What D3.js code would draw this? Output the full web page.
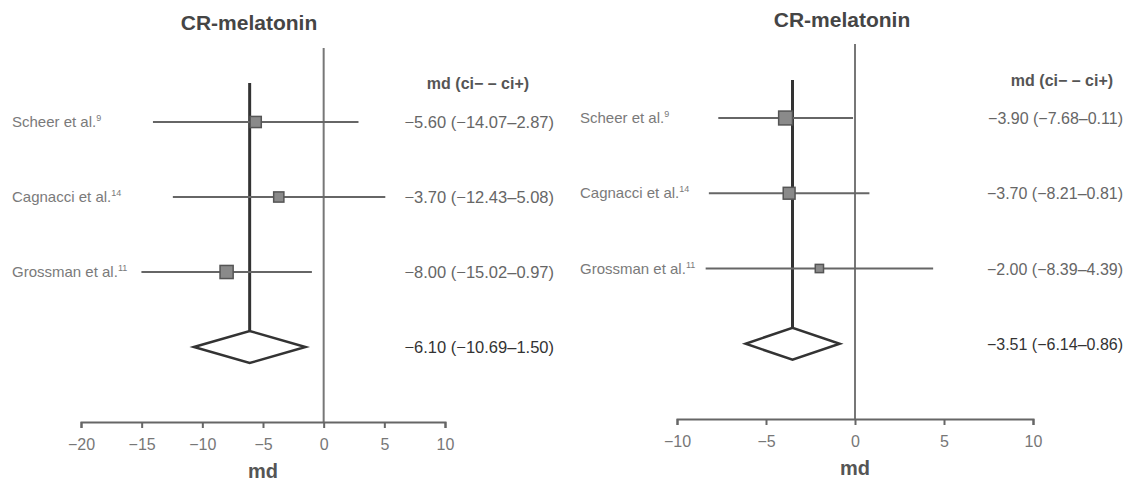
<!DOCTYPE html>
<html>
<head>
<meta charset="utf-8">
<script src="https://cdn.jsdelivr.net/npm/d3@7"></script>
<style>
  body { margin: 0; background: #fff; }
  svg { display: block; font-family: "Liberation Sans", Arial, sans-serif; }
</style>
</head>
<body>
<svg id="chart" width="1131" height="481"></svg>
<script>
// study rows (same three trials on both panels)
const studies = ["Scheer et al.", "Cagnacci et al.", "Grossman et al."];
const refs = ["9", "14", "11"];

// left panel
const leftMd = [-5.60, -3.70, -8.00];
const leftLo = [-14.07, -12.43, -15.02];
const leftHi = [2.87, 5.08, -0.97];
const leftWeight = [31, 26, 43];
const leftPooled = [-6.10, -10.69, -1.50];
const leftTicks = [-20, -15, -10, -5, 0, 5, 10];

// right panel
const rightMd = [-3.90, -3.70, -2.00];
const rightLo = [-7.68, -8.21, -8.39];
const rightHi = [-0.11, 0.81, 4.39];
const rightWeight = [48, 35, 17];
const rightPooled = [-3.51, -6.14, -0.86];
const rightTicks = [-10, -5, 0, 5, 10];

const title = "CR-melatonin";
const header = "md (ci\u2212 \u2013 ci+)";

const fmt = d3.format(".2f");
const label = (m, lo, hi) => `${fmt(m)} (${fmt(lo)}\u2013${fmt(Math.abs(hi))})`;

const svg = d3.select("#chart");
const boxSize = d3.scaleSqrt().domain([0, 100]).range([0, 20]);

function drawPanel(cfg) {
  const { md, lo, hi, weight, pooled, ticks } = cfg;
  const x = d3.scaleLinear().domain(d3.extent(ticks)).range(cfg.xRange);
  const y = d3.scaleLinear().domain([0, 4]).range(cfg.yRange);
  const g = svg.append("g");
  const rows = studies.map((s, i) => ({ s, ref: refs[i], md: md[i], lo: lo[i], hi: hi[i], w: weight[i], i }));

  // title
  g.append("text")
    .attr("x", cfg.titleX).attr("y", cfg.titleY)
    .attr("text-anchor", "middle")
    .style("font-size", "21px").style("font-weight", "bold")
    .style("fill", "#454545")
    .text(title);

  // zero line
  g.append("line")
    .attr("x1", x(0)).attr("x2", x(0))
    .attr("y1", cfg.zeroTop).attr("y2", y(4))
    .style("stroke", "#777").style("stroke-width", 2);

  // pooled estimate line
  g.append("line")
    .attr("x1", x(pooled[0])).attr("x2", x(pooled[0]))
    .attr("y1", cfg.pooledTop).attr("y2", y(3) - 16)
    .style("stroke", "#333").style("stroke-width", 3);

  // confidence intervals
  g.selectAll("line.ci").data(rows).join("line")
    .attr("class", "ci")
    .attr("x1", d => x(d.lo)).attr("x2", d => x(d.hi))
    .attr("y1", d => y(d.i)).attr("y2", d => y(d.i))
    .style("stroke", "#666").style("stroke-width", 2);

  // boxes sized by weight
  g.selectAll("rect.box").data(rows).join("rect")
    .attr("class", "box")
    .attr("x", d => x(d.md) - boxSize(d.w) / 2)
    .attr("y", d => y(d.i) - boxSize(d.w) / 2)
    .attr("width", d => boxSize(d.w)).attr("height", d => boxSize(d.w))
    .style("fill", "#8a8a8a").style("stroke", "#555").style("stroke-width", 1.5);

  // diamond
  const yd = y(3);
  g.append("path")
    .attr("d", `M${x(pooled[1])},${yd}L${x(pooled[0])},${yd - 16}L${x(pooled[2])},${yd}L${x(pooled[0])},${yd + 16}Z`)
    .style("fill", "#fff").style("stroke", "#333").style("stroke-width", 2.5)
    .style("stroke-linejoin", "miter");

  // study labels
  const lab = g.selectAll("text.study").data(rows).join("text")
    .attr("class", "study")
    .attr("x", cfg.labelX).attr("y", d => y(d.i) + 5)
    .style("font-size", "15px").style("fill", "#7a7a7a");
  lab.append("tspan").text(d => d.s);
  lab.append("tspan").attr("dy", -6).style("font-size", "9px").text(d => d.ref);

  // header and values
  g.append("text")
    .attr("x", cfg.headerX).attr("y", cfg.headerY)
    .attr("text-anchor", "middle")
    .style("font-size", "16px").style("font-weight", "bold").style("fill", "#555")
    .text(header);

  g.selectAll("text.val").data(rows).join("text")
    .attr("class", "val")
    .attr("x", cfg.valueX).attr("y", d => y(d.i) + 6)
    .attr("text-anchor", "end")
    .style("font-size", cfg.valueSize).style("fill", "#666")
    .text(d => label(d.md, d.lo, d.hi));

  g.append("text")
    .attr("x", cfg.valueX).attr("y", yd + 6)
    .attr("text-anchor", "end")
    .style("font-size", cfg.valueSize).style("fill", "#333")
    .text(label(pooled[0], pooled[1], pooled[2]));

  // axis
  const ax = g.append("g")
    .attr("transform", `translate(0,${y(4)})`)
    .call(d3.axisBottom(x).tickValues(ticks).tickSize(6).tickPadding(11));
  ax.select(".domain").style("stroke", "#666").style("stroke-width", 2);
  ax.selectAll(".tick line").style("stroke", "#666").style("stroke-width", 2);
  ax.selectAll(".tick text")
    .style("font-size", "16px").style("fill", "#777")
    .style("font-family", "'Liberation Sans', Arial, sans-serif");

  g.append("text")
    .attr("x", (cfg.xRange[0] + cfg.xRange[1]) / 2).attr("y", y(4) + 56)
    .attr("text-anchor", "middle")
    .style("font-size", "20px").style("font-weight", "bold").style("fill", "#555")
    .text("md");
}

drawPanel({
  md: leftMd, lo: leftLo, hi: leftHi, weight: leftWeight, pooled: leftPooled, ticks: leftTicks,
  xRange: [81, 445], yRange: [122, 422],
  titleX: 249, titleY: 30, zeroTop: 48, pooledTop: 83,
  labelX: 12, headerX: 478, headerY: 89, valueX: 554, valueSize: "16.5px"
});

drawPanel({
  md: rightMd, lo: rightLo, hi: rightHi, weight: rightWeight, pooled: rightPooled, ticks: rightTicks,
  xRange: [677, 1033], yRange: [118, 419],
  titleX: 842, titleY: 27, zeroTop: 44, pooledTop: 80,
  labelX: 580, headerX: 1062, headerY: 86, valueX: 1123, valueSize: "16px"
});
</script>
</body>
</html>
